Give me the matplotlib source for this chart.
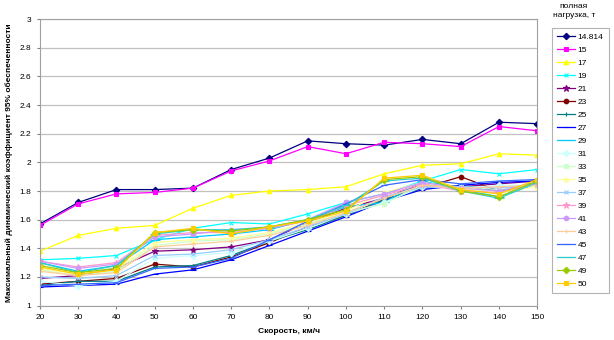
import matplotlib
matplotlib.use("Agg")
import matplotlib.pyplot as plt

plt.rcParams['font.family'] = ['Liberation Sans', 'DejaVu Sans']

# скорость, км/ч
speeds = [20, 30, 40, 50, 60, 70, 80, 90, 100, 110, 120, 130, 140, 150]

# полная нагрузка, т
loads = ["14.814", "15", "17", "19", "21", "23", "25", "27", "29", "31",
         "33", "35", "37", "39", "41", "43", "45", "47", "49", "50"]

k_14814 = [1.57, 1.72, 1.81, 1.81, 1.82, 1.95, 2.03, 2.15, 2.13, 2.12, 2.16, 2.13, 2.28, 2.27]
k_15 = [1.56, 1.71, 1.78, 1.79, 1.82, 1.94, 2.01, 2.11, 2.06, 2.14, 2.13, 2.11, 2.25, 2.22]
k_17 = [1.38, 1.49, 1.54, 1.56, 1.68, 1.77, 1.80, 1.81, 1.83, 1.92, 1.98, 1.99, 2.06, 2.05]
k_19 = [1.32, 1.33, 1.35, 1.46, 1.54, 1.58, 1.57, 1.64, 1.72, 1.78, 1.87, 1.95, 1.92, 1.95]
k_21 = [1.19, 1.21, 1.26, 1.38, 1.39, 1.41, 1.46, 1.58, 1.68, 1.75, 1.85, 1.83, 1.85, 1.87]
k_23 = [1.15, 1.17, 1.19, 1.29, 1.27, 1.34, 1.44, 1.55, 1.63, 1.74, 1.82, 1.90, 1.80, 1.86]
k_25 = [1.14, 1.17, 1.17, 1.27, 1.28, 1.35, 1.45, 1.53, 1.63, 1.74, 1.82, 1.84, 1.80, 1.86]
k_27 = [1.13, 1.14, 1.15, 1.22, 1.25, 1.32, 1.42, 1.52, 1.62, 1.73, 1.81, 1.84, 1.86, 1.87]
k_29 = [1.30, 1.24, 1.28, 1.46, 1.48, 1.50, 1.53, 1.60, 1.69, 1.72, 1.87, 1.81, 1.76, 1.85]
k_31 = [1.17, 1.14, 1.17, 1.33, 1.35, 1.37, 1.45, 1.54, 1.64, 1.72, 1.83, 1.82, 1.84, 1.84]
k_33 = [1.25, 1.21, 1.24, 1.42, 1.45, 1.46, 1.50, 1.57, 1.65, 1.71, 1.85, 1.83, 1.81, 1.84]
k_35 = [1.26, 1.22, 1.25, 1.44, 1.46, 1.47, 1.51, 1.58, 1.66, 1.79, 1.86, 1.82, 1.79, 1.83]
k_37 = [1.20, 1.19, 1.21, 1.35, 1.36, 1.39, 1.46, 1.55, 1.64, 1.76, 1.83, 1.83, 1.82, 1.85]
k_39 = [1.31, 1.27, 1.30, 1.49, 1.51, 1.51, 1.54, 1.59, 1.70, 1.77, 1.85, 1.80, 1.79, 1.85]
k_41 = [1.31, 1.26, 1.29, 1.48, 1.50, 1.53, 1.54, 1.60, 1.72, 1.78, 1.86, 1.82, 1.80, 1.86]
k_43 = [1.24, 1.21, 1.23, 1.41, 1.43, 1.45, 1.49, 1.56, 1.65, 1.75, 1.84, 1.82, 1.83, 1.84]
k_45 = [1.14, 1.15, 1.16, 1.26, 1.27, 1.33, 1.46, 1.59, 1.71, 1.84, 1.88, 1.85, 1.87, 1.88]
k_47 = [1.30, 1.23, 1.28, 1.50, 1.53, 1.53, 1.55, 1.60, 1.70, 1.87, 1.89, 1.80, 1.75, 1.86]
k_49 = [1.28, 1.23, 1.26, 1.51, 1.53, 1.52, 1.55, 1.60, 1.67, 1.88, 1.90, 1.80, 1.76, 1.87]
k_50 = [1.27, 1.22, 1.25, 1.51, 1.54, 1.50, 1.55, 1.59, 1.66, 1.89, 1.91, 1.81, 1.78, 1.88]

series = [k_14814, k_15, k_17, k_19, k_21, k_23, k_25, k_27, k_29, k_31,
          k_33, k_35, k_37, k_39, k_41, k_43, k_45, k_47, k_49, k_50]

# палитра Excel
colors = ["#000080", "#FF00FF", "#FFFF00", "#00FFFF", "#800080", "#800000",
          "#008080", "#0000FF", "#00CCFF", "#CCFFFF", "#CCFFCC", "#FFFF99",
          "#99CCFF", "#FF99CC", "#CC99FF", "#FFCC99", "#3366FF", "#33CCCC",
          "#99CC00", "#FFCC00"]
markers = ["D", "s", "^", "x", "*", "o", "+", "_", "_"]

fig = plt.figure(figsize=(6.14, 3.40), dpi=100)
ax = fig.add_axes([0.065, 0.101, 0.81, 0.843])

for i, (lbl, vals) in enumerate(zip(loads, series)):
    m = markers[i % 9]
    ms = 3.3
    if m == "_":
        ms = 4 if i % 9 == 7 else 7
    if m == "*":
        ms = 4.5
    ax.plot(speeds, vals, color=colors[i], marker=m, markersize=ms,
            markeredgewidth=0.8, linewidth=0.9, label=lbl)

ax.set_xlim(20, 150)
ax.set_ylim(1, 3)
ax.set_xticks(speeds)
ax.set_yticks([1, 1.2, 1.4, 1.6, 1.8, 2, 2.2, 2.4, 2.6, 2.8, 3])
ax.set_yticklabels(["1", "1.2", "1.4", "1.6", "1.8", "2", "2.2", "2.4", "2.6", "2.8", "3"])
ax.tick_params(labelsize=6, length=2, color="#808080", pad=4)
ax.yaxis.grid(True, color="#c0c0c0", linewidth=0.9)
ax.set_axisbelow(True)
for s in ax.spines.values():
    s.set_color("#a0a0a0")

ax.set_xlabel("Скорость, км/ч", fontsize=6, fontweight="bold", labelpad=5)
ax.set_ylabel("Максимальный динамический коэффициент 95% обеспеченности",
              fontsize=6, fontweight="bold", labelpad=5)

leg = fig.legend(loc="upper left", bbox_to_anchor=(552 / 614, 1 - 28 / 340),
                 fontsize=6, frameon=True, fancybox=False, handlelength=2.2,
                 labelspacing=0.62, borderpad=0.6, handletextpad=0.3,
                 borderaxespad=0)
leg.get_frame().set_edgecolor("#a0a0a0")
leg.get_frame().set_linewidth(0.8)
fig.text(574 / 614, 1 - 11 / 340, "полная\nнагрузка, т", fontsize=6,
         ha="center", va="center", linespacing=1.5)

fig.savefig("out.png", dpi=100)
